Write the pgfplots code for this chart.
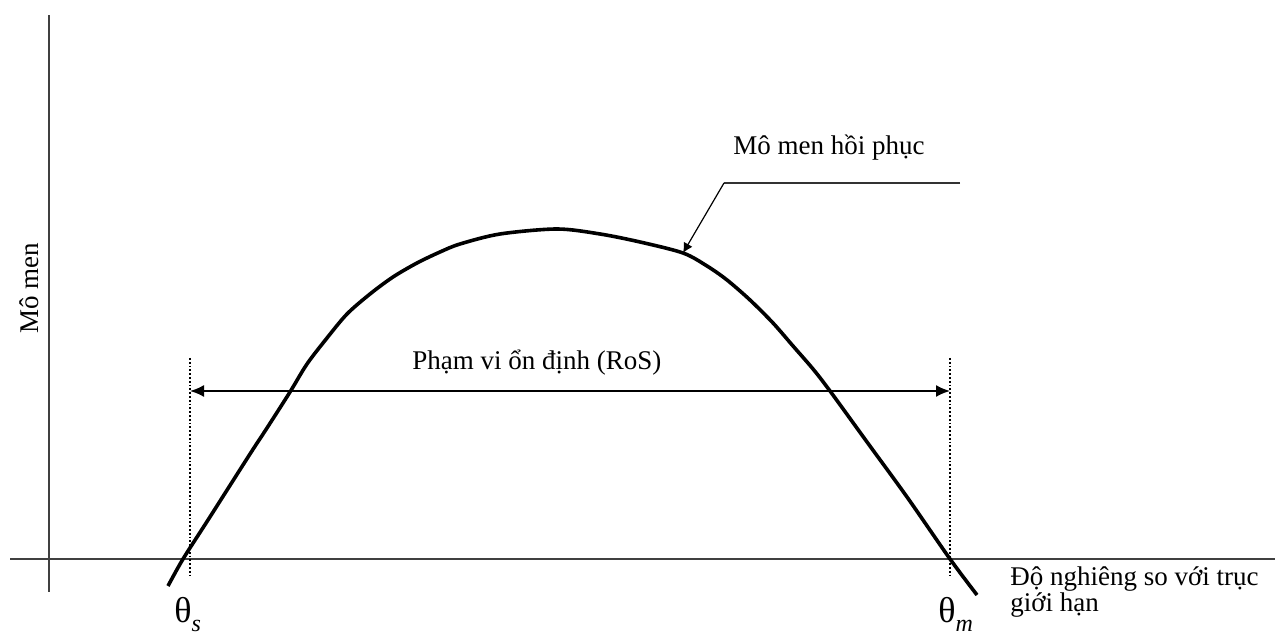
\documentclass[border=0pt]{standalone}
\usepackage{fontspec}
\setmainfont{Liberation Serif}
\usepackage{pgfplots}
\pgfplotsset{compat=1.18}
\usetikzlibrary{arrows.meta}
\begin{document}
\begin{tikzpicture}
\begin{axis}[
    x=0.5pt, y=0.5pt,
    xmin=-39, xmax=1226, ymin=-33, ymax=544,
    axis lines=middle,
    axis line style={-, line width=0.9pt, black!75},
    ticks=none,
    clip=false,
    font=\fontsize{13.5}{15}\selectfont,
]
% page frame (keeps the white margin of the original)
\path (axis cs:-49,-81) rectangle (axis cs:1229,559);

% righting moment curve
\addplot[line width=1.8pt, smooth, tension=0.5] coordinates {
    (119,-27) (134,0) (159,39) (201,105) (218,131) (241,167)
    (258,195) (278,221) (298,245) (321,265) (344,282) (368,296)
    (391,307) (411,315) (451,325) (508,330) (551,325) (591,317)
    (634,306) (658,293) (678,279) (701,259) (724,236) (744,213)
    (764,190) (781,168) (818,117) (858,62) (901,0) (928,-36)
};

% range of stability
\draw[densely dotted, line width=0.9pt] (axis cs:141,201) -- (axis cs:141,-18);
\draw[densely dotted, line width=0.9pt] (axis cs:901,201) -- (axis cs:901,-18);
\draw[line width=0.9pt, {Latex[length=7pt,width=6pt]}-{Latex[length=7pt,width=6pt]}]
    (axis cs:141,168) -- (axis cs:901,168);
\node[anchor=base west, inner sep=0pt] at (axis cs:363,189) {Phạm vi ổn định (RoS)};

% callout
\draw[line width=0.6pt, black!80] (axis cs:911,376) -- (axis cs:675,376);
\draw[line width=0.6pt, -{Latex[length=5pt,width=5pt]}] (axis cs:675,376) -- (axis cs:634,306);
\node[anchor=base west, inner sep=0pt] at (axis cs:684,404) {Mô men hồi phục};

% axis titles
\node[rotate=90, inner sep=0pt] at (axis cs:-20,271) {Mô men};
\node[anchor=base west, inner sep=0pt, align=left,
      font=\fontsize{13.5}{10.5}\selectfont] at (axis cs:961,-53)
      {Độ nghiêng so với trục\\giới hạn};

% angle labels
\node[anchor=base west, inner sep=0pt, font=\fontsize{18}{18}\selectfont]
    at (axis cs:125,-64) {θ\raisebox{-0.25em}{\fontsize{12}{12}\selectfont\textit{s}}};
\node[anchor=base west, inner sep=0pt, font=\fontsize{18}{18}\selectfont]
    at (axis cs:889,-64) {θ\raisebox{-0.25em}{\fontsize{12}{12}\selectfont\textit{m}}};
\end{axis}
\end{tikzpicture}
\end{document}
